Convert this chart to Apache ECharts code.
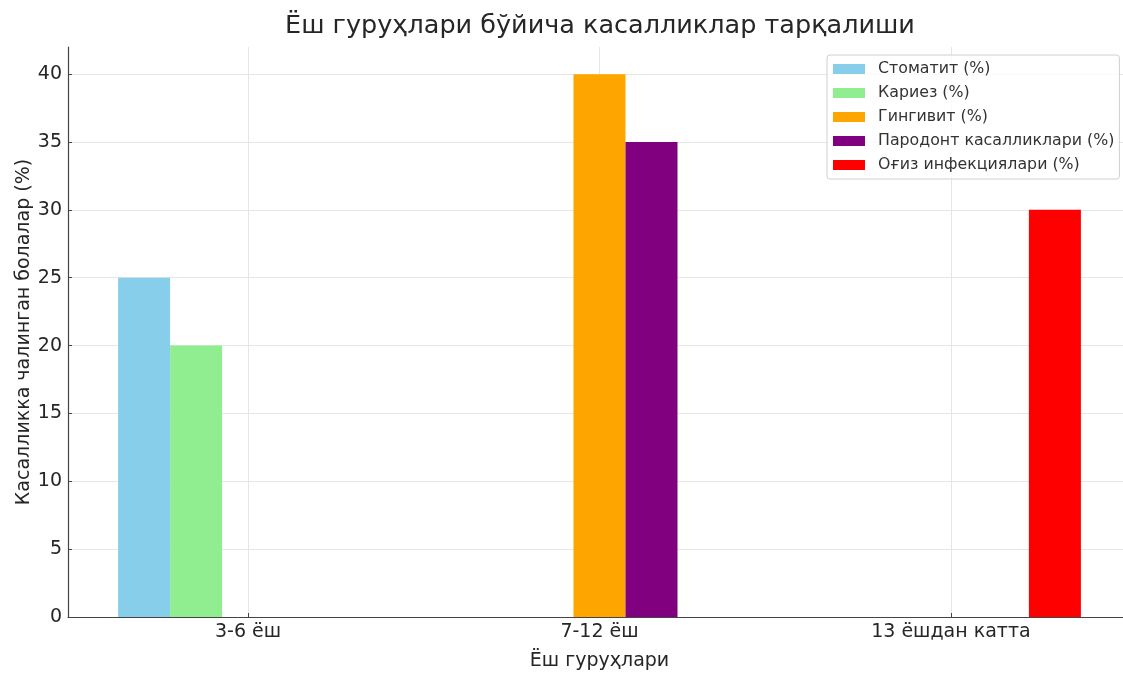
<!DOCTYPE html>
<html>
<head>
<meta charset="utf-8">
<script src="https://cdn.jsdelivr.net/npm/echarts@6/dist/echarts.min.js"></script>
<style>
html,body{margin:0;padding:0;background:#fff;}
#chart{width:1123px;height:673px;}
</style>
</head>
<body>
<div id="chart"></div>
<script>
const categories = ['3-6 ёш', '7-12 ёш', '13 ёшдан катта'];
const seriesNames = ['Стоматит (%)', 'Кариез (%)', 'Гингивит (%)', 'Пародонт касалликлари (%)', 'Оғиз инфекциялари (%)'];
const stomatit = [25, 0, 0];
const karies = [20, 0, 0];
const gingivit = [0, 40, 0];
const parodont = [0, 35, 0];
const infection = [0, 0, 30];
const colors = ['#87CEEB', '#90EE90', '#FFA500', '#800080', '#FF0000'];
const yTicks = [0, 5, 10, 15, 20, 25, 30, 35, 40];
const xTicks = [0, 1, 2];

const allValues = [stomatit, karies, gingivit, parodont, infection];
const font = 'DejaVu Sans';
const textColor = '#262626';

const chart = echarts.init(document.getElementById('chart'));
chart.setOption({
  animation: false,
  backgroundColor: '#ffffff',
  title: {
    text: 'Ёш гуруҳлари бўйича касалликлар тарқалиши',
    left: 600,
    top: 13,
    textAlign: 'center',
    padding: 0,
    textStyle: { fontFamily: font, fontSize: 25.5, fontWeight: 'normal', color: textColor }
  },
  legend: {
    orient: 'vertical',
    left: 827,
    top: 55,
    padding: [6, 5, 6, 6],
    itemWidth: 32,
    itemHeight: 10,
    itemGap: 8,
    borderColor: '#d0d0d0',
    borderWidth: 1,
    borderRadius: 3,
    backgroundColor: 'rgba(255,255,255,0.8)',
    icon: 'rect',
    textStyle: { fontFamily: font, fontSize: 15.8, color: '#333', padding: [0, 0, 0, 8] },
    data: seriesNames
  },
  grid: {
    left: 68,
    top: 47,
    width: 1063,
    bottom: 56,
    containLabel: false,
    outerBoundsMode: 'none'
  },
  xAxis: {
    type: 'value',
    min: -0.5125,
    max: 2.5125,
    name: 'Ёш гуруҳлари',
    nameLocation: 'middle',
    nameGap: 35,
    nameMoveOverlap: false,
    nameTextStyle: { fontFamily: font, fontSize: 19, color: textColor },
    axisLine: { show: true, onZero: false, lineStyle: { color: '#444', width: 1.2 } },
    axisTick: { show: true, inside: true, length: 4, customValues: xTicks, lineStyle: { color: '#444' } },
    axisLabel: {
      customValues: xTicks,
      margin: 6,
      fontFamily: font, fontSize: 19, color: textColor,
      formatter: v => categories[Math.round(v)]
    },
    splitLine: { show: true, lineStyle: { color: '#e6e6e6', width: 1 } }
  },
  yAxis: {
    type: 'value',
    min: 0,
    max: 42,
    name: 'Касалликка чалинган болалар (%)',
    nameLocation: 'middle',
    nameRotate: 90,
    nameGap: 34,
    nameMoveOverlap: false,
    nameTextStyle: { fontFamily: font, fontSize: 19, color: textColor },
    axisLine: { show: true, onZero: false, lineStyle: { color: '#444', width: 1.2 } },
    axisTick: { show: true, inside: true, length: 4, customValues: yTicks, lineStyle: { color: '#444' } },
    axisLabel: {
      customValues: yTicks,
      margin: 6,
      fontFamily: font, fontSize: 19, color: textColor
    },
    splitLine: { show: true, lineStyle: { color: '#e6e6e6', width: 1 } }
  },
  series: seriesNames.map((name, i) => ({
    name: name,
    type: 'bar',
    barWidth: 52,
    barGap: '0%',
    itemStyle: { color: colors[i] },
    data: allValues[i].map((v, j) => [j, v])
  }))
});
</script>
</body>
</html>
